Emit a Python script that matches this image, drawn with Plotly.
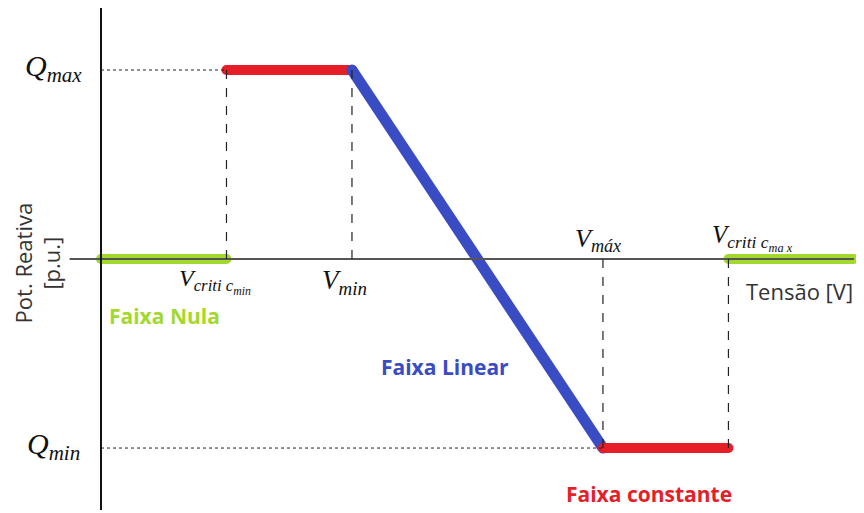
import plotly.graph_objects as go

# curva Volt-VAr (tensao em p.u., potencia reativa em p.u.)
v_crit_min = 0.8
v_min = 0.9
v_max = 1.1
v_crit_max = 1.2
v_start = 0.7
v_end = 1.3
q_max = 1.0
q_min = -1.0

faixa_nula_esq_v = [v_start, v_crit_min]
faixa_nula_esq_q = [0, 0]
faixa_const_sup_v = [v_crit_min, v_min]
faixa_const_sup_q = [q_max, q_max]
faixa_linear_v = [v_min, v_max]
faixa_linear_q = [q_max, q_min]
faixa_const_inf_v = [v_max, v_crit_max]
faixa_const_inf_q = [q_min, q_min]
faixa_nula_dir_v = [v_crit_max, v_end]
faixa_nula_dir_q = [0, 0]

VERDE = "#a3d82c"
VERMELHO = "#e61e28"
AZUL = "#3a4cc4"
MATH_FONT = "Liberation Serif"
TEXT_FONT = "Open Sans"

fig = go.Figure()


def add_segment(xs, ys, color, width):
    """
    Adiciona um segmento grosso com pontas arredondadas.
    """
    fig.add_trace(go.Scatter(x=xs, y=ys, mode="lines+markers",
                             line=dict(color=color, width=width),
                             marker=dict(color=color, size=width),
                             showlegend=False, hoverinfo="skip"))


# eixos desenhados a mao
fig.add_shape(type="line", x0=0.675, x1=1.30, y0=0, y1=0, line=dict(color="#555555", width=2))
fig.add_shape(type="line", x0=v_start, x1=v_start, y0=-1.328, y1=1.344, line=dict(color="#111111", width=2))

# linhas de referencia
fig.add_shape(type="line", x0=v_start, x1=v_crit_min, y0=q_max, y1=q_max, line=dict(color="#222222", width=1, dash="dot"))
fig.add_shape(type="line", x0=v_start, x1=v_max, y0=q_min, y1=q_min, line=dict(color="#222222", width=1, dash="dot"))
for v, q in [(v_crit_min, q_max), (v_min, q_max), (v_max, q_min), (v_crit_max, q_min)]:
    fig.add_shape(type="line", x0=v, x1=v, y0=0, y1=q, line=dict(color="#222222", width=1.2, dash="dash"))

add_segment(faixa_nula_esq_v, faixa_nula_esq_q, VERDE, 10)
add_segment(faixa_const_sup_v, faixa_const_sup_q, VERMELHO, 10)
add_segment(faixa_linear_v, faixa_linear_q, AZUL, 11)
add_segment(faixa_const_inf_v, faixa_const_inf_q, VERMELHO, 10)
add_segment(faixa_nula_dir_v, faixa_nula_dir_q, VERDE, 10)

math_labels = [
    ("<i>Q<sub>max</sub></i>", 0.662, q_max + 0.01, 30),
    ("<i>Q<sub>min</sub></i>", 0.662, q_min + 0.01, 30),
    ("<i>V<sub>criti c<sub>min</sub></sub></i>", 0.791, -0.12, 24),
    ("<i>V<sub>min</sub></i>", 0.894, -0.12, 27),
    ("<i>V<sub>máx</sub></i>", 1.096, 0.10, 26),
    ("<i>V<sub>criti c<sub>ma x</sub></sub></i>", 1.219, 0.11, 25),
]
for txt, x, y, size in math_labels:
    fig.add_annotation(x=x, y=y, text=txt, showarrow=False,
                       font=dict(family=MATH_FONT, size=size, color="#111111"))

fig.add_annotation(x=1.257, y=-0.17, text="Tensão [V]", showarrow=False,
                   font=dict(family=TEXT_FONT, size=22, color="#333333"))
fig.add_annotation(x=0.6495, y=-0.02, text="Pot. Reativa<br>[p.u.]", showarrow=False, textangle=-90,
                   font=dict(family=TEXT_FONT, size=22, color="#333333"))
fig.add_annotation(x=0.751, y=-0.30, text="<b>Faixa Nula</b>", showarrow=False,
                   font=dict(family=TEXT_FONT, size=21, color=VERDE))
fig.add_annotation(x=0.974, y=-0.571, text="<b>Faixa Linear</b>", showarrow=False,
                   font=dict(family=TEXT_FONT, size=21, color=AZUL))
fig.add_annotation(x=1.137, y=-1.243, text="<b>Faixa constante</b>", showarrow=False,
                   font=dict(family=TEXT_FONT, size=21, color=VERMELHO))

# o html padrao desloca a figura ~8px; compensado nos intervalos
fig.update_xaxes(range=[0.6259, 1.3144], visible=False)
fig.update_yaxes(range=[-1.386, 1.328], visible=False)
fig.update_layout(width=864, height=513, margin=dict(l=0, r=0, t=0, b=0),
                  plot_bgcolor="white", paper_bgcolor="white")

fig.write_html("out.html")
